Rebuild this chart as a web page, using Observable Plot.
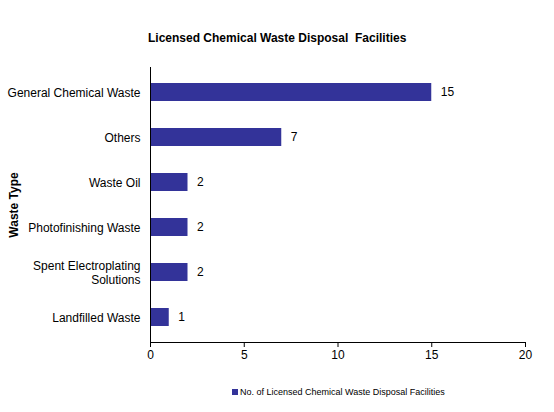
<!DOCTYPE html>
<html>
<head>
<meta charset="utf-8">
<script src="https://cdn.jsdelivr.net/npm/d3@7"></script>
<script src="https://cdn.jsdelivr.net/npm/@observablehq/plot@0.6"></script>
<style>
  body { margin: 0; background: #fff; font-family: "Liberation Sans", Arial, sans-serif; }
  #title { height: 25px; padding-top: 31px; padding-left: 148px; font-size: 12px; line-height: 14px; font-weight: bold; white-space: pre; }
  #legend { padding-top: 14px; padding-left: 232px; font-size: 9px; line-height: 12px; color: #000; }
  #legend span.sw { display: inline-block; width: 6px; height: 6px; background: #333399; margin-right: 2px; vertical-align: 0px; }
</style>
</head>
<body>
<div id="title">Licensed Chemical Waste Disposal  Facilities</div>
<div id="chart"></div>
<div id="legend"><span class="sw"></span>No. of Licensed Chemical Waste Disposal Facilities</div>
<script>
var wasteTypes = [
  "General Chemical Waste",
  "Others",
  "Waste Oil",
  "Photofinishing Waste",
  "Spent Electroplating\nSolutions",
  "Landfilled Waste",
];
var facilities = [15, 7, 2, 2, 2, 1];
var xTicks = [0, 5, 10, 15, 20];

var data = wasteTypes.map((t, i) => ({ type: t, value: facilities[i] }));

var plot = Plot.plot({
  width: 554,
  height: 316,
  marginLeft: 150,
  marginRight: 29,
  marginTop: 11,
  marginBottom: 30,
  style: {
    fontFamily: "Liberation Sans, Arial, sans-serif",
    fontSize: "12px",
    color: "#000",
    background: "transparent",
  },
  x: { domain: [0, 20] },
  y: { domain: wasteTypes, paddingInner: 0.6, paddingOuter: 0.3 },
  marks: [
    Plot.barX(data, { x: "value", y: "type", fill: "#333399" }),
    Plot.text(data, {
      x: "value",
      y: "type",
      text: "value",
      dx: 9,
      textAnchor: "start",
      fontSize: 12,
      fill: "#000",
    }),
    Plot.ruleX([0], { stroke: "#000" }),
    Plot.frame({ anchor: "bottom", stroke: "#000" }),
    Plot.axisX({ ticks: xTicks, tickSize: 5, tickPadding: 3, label: null, fontSize: 12 }),
    Plot.axisY({
      tickSize: 0,
      tickPadding: 10,
      fontSize: 12,
      lineHeight: 1.2,
      label: "Waste Type",
      labelAnchor: "center",
      labelOffset: 141,
      fontWeight: "bold",
    }),
  ],
});
// only the axis title should be bold
d3.select(plot).selectAll("g[aria-label='y-axis tick label'] text").attr("font-weight", "normal");
document.getElementById("chart").append(plot);
</script>
</body>
</html>
